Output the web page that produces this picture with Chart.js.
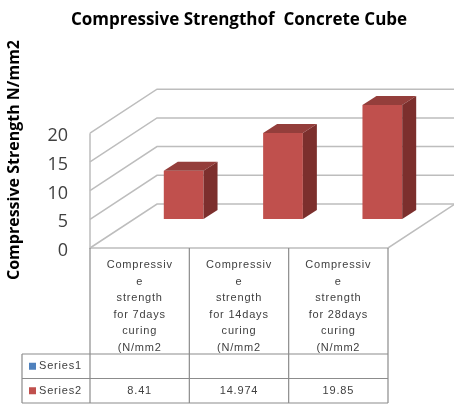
<!DOCTYPE html>
<html>
<head>
<meta charset="utf-8">
<script src="https://cdn.jsdelivr.net/npm/chart.js@4.4.0/dist/chart.umd.min.js"></script>
<style>
  html, body { margin: 0; padding: 0; background: #fff; }
</style>
</head>
<body>
<canvas id="chart" width="454" height="405"></canvas>
<script>
// data
const categories = [
  ['Compressiv', 'e', 'strength', 'for 7days', 'curing', '(N/mm2'],
  ['Compressiv', 'e', 'strength', 'for 14days', 'curing', '(N/mm2'],
  ['Compressiv', 'e', 'strength', 'for 28days', 'curing', '(N/mm2']
];
const series1 = [null, null, null];
const series2 = [8.41, 14.974, 19.85];
const yTicks = [0, 5, 10, 15, 20];

// 3d look: offsets of the front plane / back wall / bar depth from the bar plane
const FRONT = { x: -44, y: 29 };
const BACK = { x: 23, y: -15 };
const DEPTH = { x: 14, y: -9 };
const GRID = '#bdbdbd';
const TEXT = '#404040';

const cube3d = {
  id: 'cube3d',
  beforeDatasetsDraw(chart) {
    const { ctx, chartArea: a, scales: { y } } = chart;
    ctx.save();
    ctx.strokeStyle = GRID;
    ctx.lineWidth = 1.5;
    // back wall gridlines + left wall diagonals
    yTicks.forEach(v => {
      const py = y.getPixelForValue(v);
      ctx.beginPath();
      ctx.moveTo(a.left + FRONT.x, py + FRONT.y);
      ctx.lineTo(a.left + BACK.x, py + BACK.y);
      ctx.lineTo(a.right + BACK.x, py + BACK.y);
      ctx.stroke();
    });
    const y0 = y.getPixelForValue(0);
    const yTop = y.getPixelForValue(yTicks[yTicks.length - 1]);
    ctx.beginPath();
    ctx.moveTo(a.left + FRONT.x, yTop + FRONT.y);
    ctx.lineTo(a.left + FRONT.x, y0 + FRONT.y);
    ctx.lineTo(a.right + FRONT.x, y0 + FRONT.y);
    ctx.lineTo(a.right + BACK.x, y0 + BACK.y);
    ctx.stroke();
    ctx.restore();
  },
  afterDatasetsDraw(chart) {
    const { ctx } = chart;
    ctx.save();
    chart.data.datasets.forEach((ds, di) => {
      const meta = chart.getDatasetMeta(di);
      meta.data.forEach((bar, i) => {
        if (ds.data[i] == null) return;
        const l = bar.x - bar.width / 2, r = bar.x + bar.width / 2;
        const t = bar.y, b = bar.base;
        ctx.fillStyle = '#943e3b';
        ctx.beginPath();
        ctx.moveTo(l, t);
        ctx.lineTo(l + DEPTH.x, t + DEPTH.y);
        ctx.lineTo(r + DEPTH.x, t + DEPTH.y);
        ctx.lineTo(r, t);
        ctx.closePath();
        ctx.fill();
        ctx.fillStyle = '#7c2f2d';
        ctx.beginPath();
        ctx.moveTo(r, t);
        ctx.lineTo(r + DEPTH.x, t + DEPTH.y);
        ctx.lineTo(r + DEPTH.x, b + DEPTH.y);
        ctx.lineTo(r, b);
        ctx.closePath();
        ctx.fill();
      });
    });
    ctx.restore();
  },
  afterDraw(chart) {
    const { ctx, chartArea: a, scales: { x, y } } = chart;
    const y0 = y.getPixelForValue(0) + FRONT.y;
    const cw = (a.right - a.left) / categories.length;
    const cols = categories.map((c, i) => x.getPixelForValue(i) + FRONT.x);
    const edges = categories.map((c, i) => a.left + FRONT.x + i * cw).concat(a.right + FRONT.x);
    const headBottom = 354, rowH = 24.5, keyLeft = 22;
    const tableBottom = headBottom + rowH * 2;

    ctx.save();
    // title
    ctx.fillStyle = '#000';
    ctx.font = 'bold 17px "Open Sans"';
    ctx.textAlign = 'center';
    ctx.textBaseline = 'alphabetic';
    ctx.fillText('Compressive Strengthof  Concrete Cube', 239, 25);

    // y tick labels on the front plane
    ctx.fillStyle = TEXT;
    ctx.font = '18px "Open Sans"';
    ctx.textAlign = 'right';
    ctx.textBaseline = 'middle';
    yTicks.forEach(v => ctx.fillText(String(v), a.left + FRONT.x - 22, y.getPixelForValue(v) + FRONT.y + 3));

    // y axis title
    ctx.save();
    ctx.translate(19, 160);
    ctx.rotate(-Math.PI / 2);
    ctx.textAlign = 'center';
    ctx.textBaseline = 'alphabetic';
    ctx.font = 'bold 16px "Open Sans"';
    ctx.fillStyle = '#000';
    ctx.fillText('Compressive Strength N/mm2', 0, 0);
    ctx.restore();

    // data table
    ctx.strokeStyle = '#8c8c8c';
    ctx.lineWidth = 1.2;
    ctx.beginPath();
    edges.forEach(ex => { ctx.moveTo(ex, y0); ctx.lineTo(ex, tableBottom); });
    ctx.moveTo(keyLeft, headBottom); ctx.lineTo(keyLeft, tableBottom);
    [headBottom, headBottom + rowH, tableBottom].forEach(ry => {
      ctx.moveTo(keyLeft, ry); ctx.lineTo(edges[edges.length - 1], ry);
    });
    ctx.stroke();

    ctx.textAlign = 'center';
    ctx.font = '11px "Liberation Sans"';
    ctx.letterSpacing = '0.8px';
    ctx.fillStyle = TEXT;
    categories.forEach((lines, i) => {
      lines.forEach((ln, k) => ctx.fillText(ln, cols[i], 265 + k * 16.6));
    });

    const rows = [
      { name: 'Series1', color: '#4f81bd', vals: series1 },
      { name: 'Series2', color: '#c0504d', vals: series2 }
    ];
    rows.forEach((row, ri) => {
      const cy = headBottom + rowH * ri + rowH / 2;
      ctx.fillStyle = row.color;
      ctx.fillRect(29, cy - 3.5, 7, 7);
      ctx.fillStyle = TEXT;
      ctx.textAlign = 'left';
      ctx.fillText(row.name, 39, cy);
      ctx.textAlign = 'center';
      row.vals.forEach((v, i) => { if (v != null) ctx.fillText(String(v), cols[i], cy); });
    });
    ctx.restore();
  }
};

new Chart(document.getElementById('chart'), {
  type: 'bar',
  data: {
    labels: categories.map(c => c.join(' ')),
    datasets: [
      { label: 'Series1', data: series1, backgroundColor: '#4f81bd' },
      { label: 'Series2', data: series2, backgroundColor: '#c0504d' }
    ]
  },
  options: {
    responsive: false,
    animation: false,
    grouped: false,
    categoryPercentage: 1,
    barPercentage: 0.4,
    layout: { padding: { left: 134, right: 22, top: 104.2, bottom: 186 } },
    scales: {
      x: { display: false },
      y: { display: false, min: 0, max: 20 }
    },
    plugins: {
      legend: { display: false },
      tooltip: { enabled: false },
      title: { display: false }
    }
  },
  plugins: [cube3d]
});
</script>
</body>
</html>
